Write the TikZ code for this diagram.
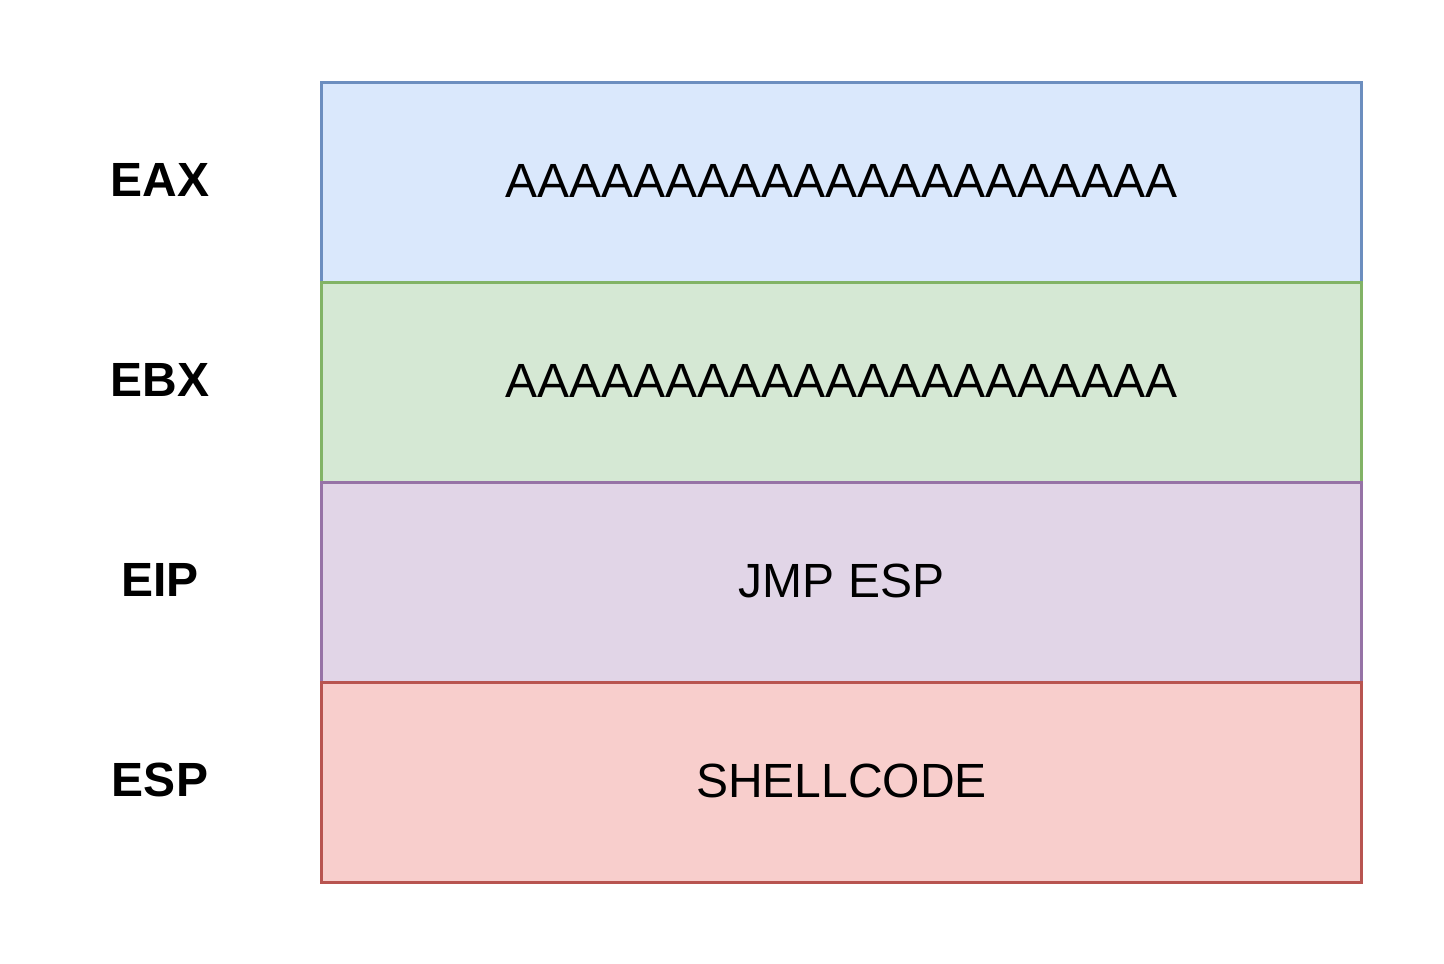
\documentclass[tikz,border=0pt]{standalone}
\usepackage{fontspec}
\setmainfont{Liberation Sans}
\definecolor{bluefill}{HTML}{DAE8FC}\definecolor{bluedraw}{HTML}{6C8EBF}
\definecolor{greenfill}{HTML}{D5E8D4}\definecolor{greendraw}{HTML}{82B366}
\definecolor{purplefill}{HTML}{E1D5E7}\definecolor{purpledraw}{HTML}{9673A6}
\definecolor{redfill}{HTML}{F8CECC}\definecolor{reddraw}{HTML}{B85450}
\begin{document}
\begin{tikzpicture}[x=1pt,y=-1pt,
  cell/.style={draw, line width=3pt, minimum width=1040pt, minimum height=200pt, inner sep=0pt, outer sep=0pt,
    text height=34.4pt, text depth=4pt, anchor=center,
    font=\fontsize{48}{58}\selectfont},
  reglabel/.style={font=\fontsize{48}{58}\selectfont\bfseries, inner sep=0pt}]
\useasboundingbox (0,0) rectangle (1444,964);
\node[cell, fill=bluefill, draw=bluedraw] (eax) at (841.5,182) {AAAAAAAAAAAAAAAAAAAAA};
\node[cell, fill=greenfill, draw=greendraw] (ebx) at (841.5,382) {AAAAAAAAAAAAAAAAAAAAA};
\node[cell, fill=purplefill, draw=purpledraw] (eip) at (841.5,582) {JMP ESP};
\node[cell, fill=redfill, draw=reddraw] (esp) at (841.5,782) {SHELLCODE};
\node[reglabel] (leax) at (160,180) {EAX};
\node[reglabel] (lebx) at (160,380) {EBX};
\node[reglabel] (leip) at (160,580) {EIP};
\node[reglabel] (lesp) at (160,780) {ESP};
\end{tikzpicture}
\end{document}
